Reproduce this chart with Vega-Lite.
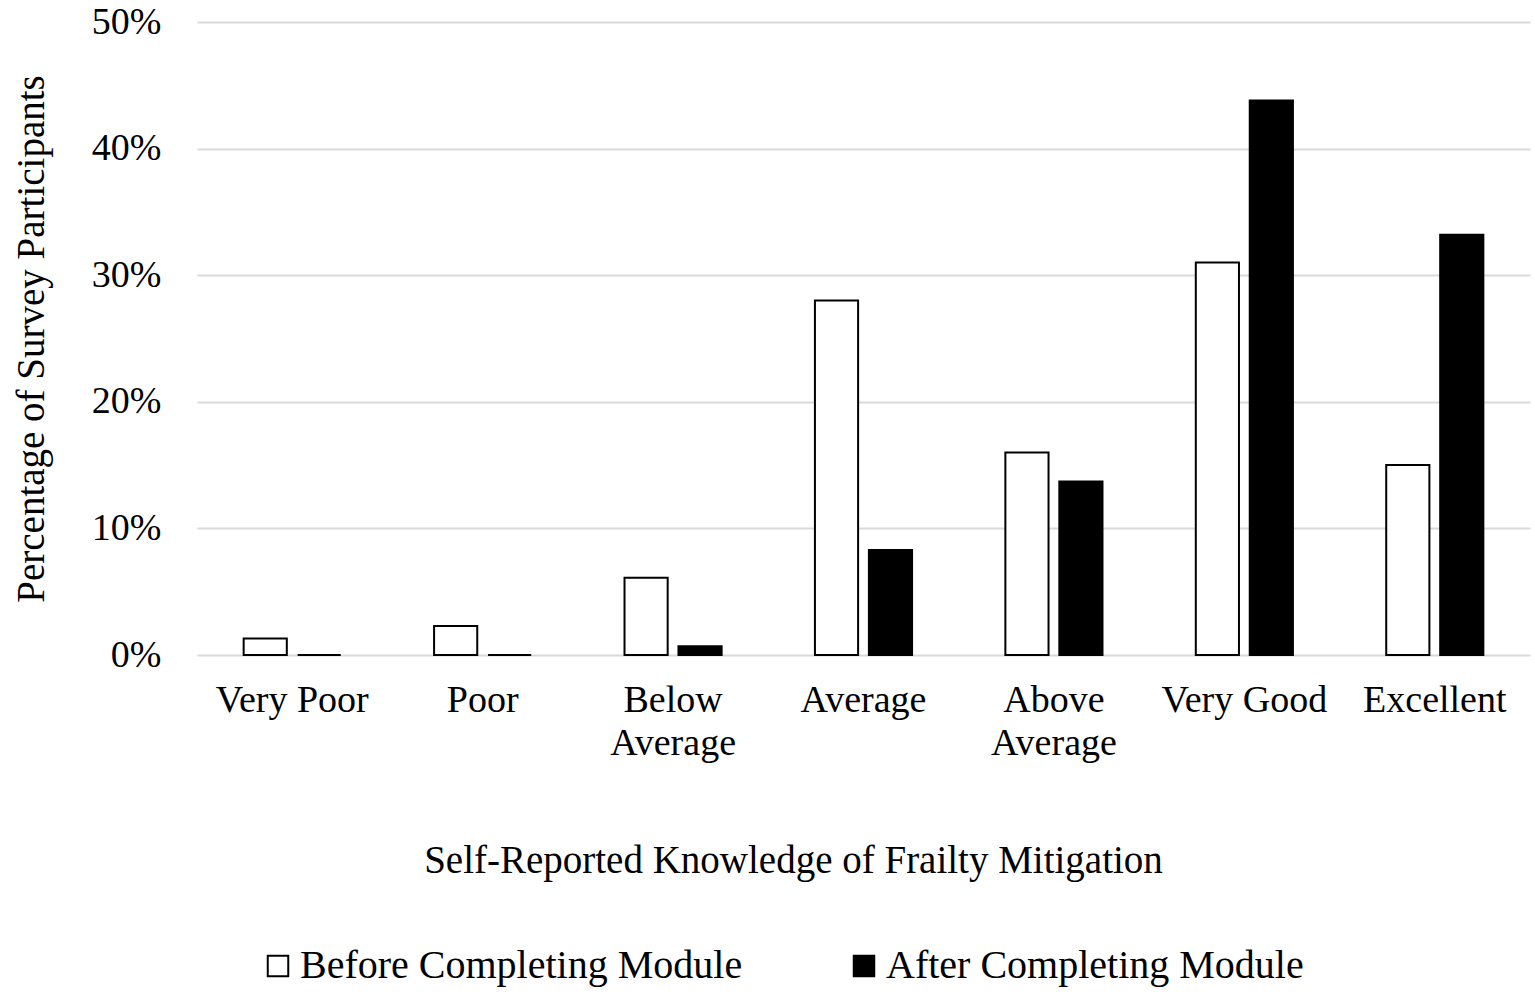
{
  "$schema": "https://vega.github.io/schema/vega-lite/v6.json",
  "autosize": {"type": "none"},
  "width": 1333,
  "height": 633,
  "padding": {"left": 197, "top": 22, "right": 5, "bottom": 337},
  "background": "white",
  "config": {
    "font": "Liberation Serif",
    "view": {"stroke": null}
  },
  "data": {
    "values": [
      {"knowledge": "Very Poor", "group": "Before Completing Module", "pct": 0.013},
      {"knowledge": "Very Poor", "group": "After Completing Module", "pct": 0.0},
      {"knowledge": "Poor", "group": "Before Completing Module", "pct": 0.023},
      {"knowledge": "Poor", "group": "After Completing Module", "pct": 0.0},
      {"knowledge": "Below Average", "group": "Before Completing Module", "pct": 0.061},
      {"knowledge": "Below Average", "group": "After Completing Module", "pct": 0.007},
      {"knowledge": "Average", "group": "Before Completing Module", "pct": 0.280},
      {"knowledge": "Average", "group": "After Completing Module", "pct": 0.083},
      {"knowledge": "Above Average", "group": "Before Completing Module", "pct": 0.160},
      {"knowledge": "Above Average", "group": "After Completing Module", "pct": 0.137},
      {"knowledge": "Very Good", "group": "Before Completing Module", "pct": 0.310},
      {"knowledge": "Very Good", "group": "After Completing Module", "pct": 0.438},
      {"knowledge": "Excellent", "group": "Before Completing Module", "pct": 0.150},
      {"knowledge": "Excellent", "group": "After Completing Module", "pct": 0.332}
    ]
  },
  "mark": {"type": "bar", "stroke": "black", "strokeWidth": 2},
  "encoding": {
    "x": {
      "field": "knowledge",
      "type": "nominal",
      "sort": ["Very Poor", "Poor", "Below Average", "Average", "Above Average", "Very Good", "Excellent"],
      "scale": {"paddingInner": 0.49, "paddingOuter": 0.245},
      "title": "Self-Reported Knowledge of Frailty Mitigation",
      "axis": {
        "labelAngle": 0,
        "labelFontSize": 38,
        "labelColor": "black",
        "labelPadding": 26,
        "labelLineHeight": 43,
        "labelExpr": "datum.value == 'Below Average' ? ['Below', 'Average'] : datum.value == 'Above Average' ? ['Above', 'Average'] : datum.value",
        "ticks": false,
        "domain": false,
        "titleFontSize": 39,
        "titleFontWeight": "normal",
        "titleColor": "black",
        "titlePadding": 79,
        "titleX": 596,
        "titleAnchor": "start",
        "titleAlign": "center"
      }
    },
    "xOffset": {
      "field": "group",
      "type": "nominal",
      "sort": ["Before Completing Module", "After Completing Module"],
      "scale": {"paddingInner": 0.2, "paddingOuter": 0}
    },
    "y": {
      "field": "pct",
      "type": "quantitative",
      "scale": {"domain": [0, 0.5], "nice": false},
      "title": "Percentage of Survey Participants",
      "axis": {
        "format": ".0%",
        "values": [0, 0.1, 0.2, 0.3, 0.4, 0.5],
        "labelOverlap": false,
        "labelFontSize": 38,
        "labelColor": "black",
        "labelPadding": 36,
        "ticks": false,
        "domain": false,
        "gridColor": "#d9d9d9",
        "gridWidth": 2,
        "titleFontSize": 39,
        "titleFontWeight": "normal",
        "titleColor": "black",
        "titlePadding": 40
      }
    },
    "fill": {
      "field": "group",
      "type": "nominal",
      "sort": ["Before Completing Module", "After Completing Module"],
      "scale": {"domain": ["Before Completing Module", "After Completing Module"], "range": ["white", "black"]},
      "legend": {
        "title": null,
        "orient": "none",
        "legendX": 61,
        "legendY": 924,
        "padding": 0,
        "direction": "horizontal",
        "symbolType": "square",
        "symbolSize": 420,
        "symbolStrokeColor": "black",
        "symbolStrokeWidth": 2,
        "labelFontSize": 40,
        "labelColor": "black",
        "labelOffset": 2,
        "labelLimit": 0,
        "columnPadding": 101
      }
    }
  }
}
